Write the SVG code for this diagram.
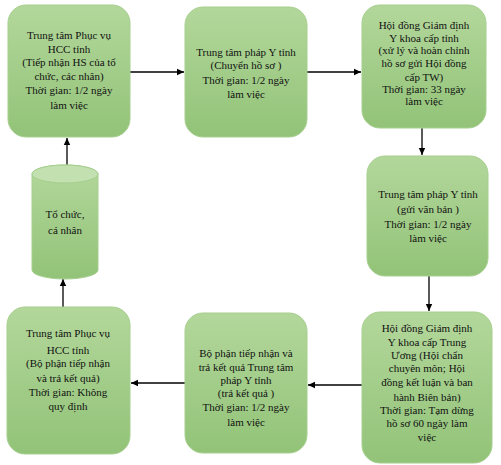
<svg xmlns="http://www.w3.org/2000/svg" width="501" height="465" viewBox="0 0 501 465">
<defs>
<linearGradient id="g" x1="0" y1="0" x2="0" y2="1">
<stop offset="0" stop-color="#b3d79b"/>
<stop offset="1" stop-color="#92c378"/>
</linearGradient>
<marker id="ah" markerWidth="8" markerHeight="8" refX="7" refY="4" orient="auto" markerUnits="userSpaceOnUse">
<path d="M0,0.8 L7,4 L0,7.2 Z" fill="#000"/>
</marker>
<style>
.box{fill:url(#g);stroke:#a6cf8e;stroke-width:1}
.t{font-family:"Liberation Serif","Times New Roman",serif;font-size:11px;fill:#111;text-anchor:middle}
.c{stroke:#000;stroke-width:1.3;fill:none;marker-end:url(#ah)}
</style>
</defs>
<rect width="501" height="465" fill="#fff"/>
<g id="connectors">
<line class="c" x1="130" y1="72" x2="184" y2="72"/>
<line class="c" x1="307" y1="72" x2="361" y2="72"/>
<line class="c" x1="422" y1="128" x2="422" y2="155"/>
<line class="c" x1="429" y1="276" x2="429" y2="311"/>
<line class="c" x1="362" y1="385" x2="308" y2="385"/>
<line class="c" x1="185" y1="383" x2="131" y2="383"/>
<line class="c" x1="63" y1="307" x2="63" y2="279"/>
<line class="c" x1="67" y1="165" x2="67" y2="138"/>
</g>
<g id="n1">
<rect class="box" x="8" y="5" width="122" height="132" rx="18"/>
<text class="t" x="69" y="39">Trung tâm Phục vụ</text>
<text class="t" x="69" y="53">HCC tỉnh</text>
<text class="t" x="69" y="66">(Tiếp nhận HS của tổ</text>
<text class="t" x="69" y="80">chức, các nhân)</text>
<text class="t" x="69" y="94">Thời gian: 1/2 ngày</text>
<text class="t" x="69" y="109">làm việc</text>
</g>
<g id="n2">
<rect class="box" x="185" y="7" width="122" height="130" rx="18"/>
<text class="t" x="246" y="56">Trung tâm pháp Y tỉnh</text>
<text class="t" x="246" y="69">(Chuyển hồ sơ )</text>
<text class="t" x="246" y="84">Thời gian: 1/2 ngày</text>
<text class="t" x="246" y="98">làm việc</text>
</g>
<g id="n3">
<rect class="box" x="362" y="5" width="124" height="123" rx="18"/>
<text class="t" x="424" y="29">Hội đồng Giám định</text>
<text class="t" x="424" y="42">Y khoa cấp tỉnh</text>
<text class="t" x="424" y="54">(xử lý và hoàn chỉnh</text>
<text class="t" x="424" y="67">hồ sơ gửi Hội đồng</text>
<text class="t" x="424" y="81">cấp TW)</text>
<text class="t" x="424" y="93">Thời gian: 33 ngày</text>
<text class="t" x="424" y="105">làm việc</text>
</g>
<g id="n4">
<rect class="box" x="367" y="156" width="121" height="120" rx="18"/>
<text class="t" x="428" y="198">Trung tâm pháp Y tỉnh</text>
<text class="t" x="428" y="213">(gửi văn bản )</text>
<text class="t" x="428" y="228">Thời gian: 1/2 ngày</text>
<text class="t" x="428" y="242">làm việc</text>
</g>
<g id="n5">
<rect class="box" x="362" y="312" width="130" height="151" rx="18"/>
<text class="t" x="427" y="332">Hội đồng Giám định</text>
<text class="t" x="427" y="346">Y khoa cấp Trung</text>
<text class="t" x="427" y="359">Ương (Hội chẩn</text>
<text class="t" x="427" y="372">chuyên môn; Hội</text>
<text class="t" x="427" y="386">đồng kết luận và ban</text>
<text class="t" x="427" y="401">hành Biên bản)</text>
<text class="t" x="427" y="414">Thời gian: Tạm dừng</text>
<text class="t" x="427" y="427">hồ sơ 60 ngày làm</text>
<text class="t" x="427" y="441">việc</text>
</g>
<g id="n6">
<rect class="box" x="185" y="313" width="122" height="140" rx="18"/>
<text class="t" x="246" y="357">Bộ phận tiếp nhận và</text>
<text class="t" x="246" y="371">trả kết quả Trung tâm</text>
<text class="t" x="246" y="384">pháp Y  tỉnh</text>
<text class="t" x="246" y="397">(trả kết quả )</text>
<text class="t" x="246" y="411">Thời gian: 1/2 ngày</text>
<text class="t" x="246" y="426">làm việc</text>
</g>
<g id="n7">
<rect class="box" x="7" y="307" width="123" height="147" rx="18"/>
<text class="t" x="68" y="337">Trung tâm Phục vụ</text>
<text class="t" x="68" y="354">HCC tỉnh</text>
<text class="t" x="68" y="367">(Bộ phận tiếp nhận</text>
<text class="t" x="68" y="382">và trả kết quả)</text>
<text class="t" x="68" y="396">Thời gian: Không</text>
<text class="t" x="68" y="410">quy định</text>
</g>
<g id="n8">
<path class="box" d="M32,174 L32,270 A33,9 0 0 0 98,270 L98,174 A33,9 0 0 0 32,174 Z"/>
<ellipse cx="65" cy="174" rx="33" ry="9" fill="#c3e0b0" stroke="#a6cf8e" stroke-width="1"/>
<text class="t" x="65" y="218">Tổ chức,</text>
<text class="t" x="65" y="234">cá nhân</text>
</g>
</svg>
